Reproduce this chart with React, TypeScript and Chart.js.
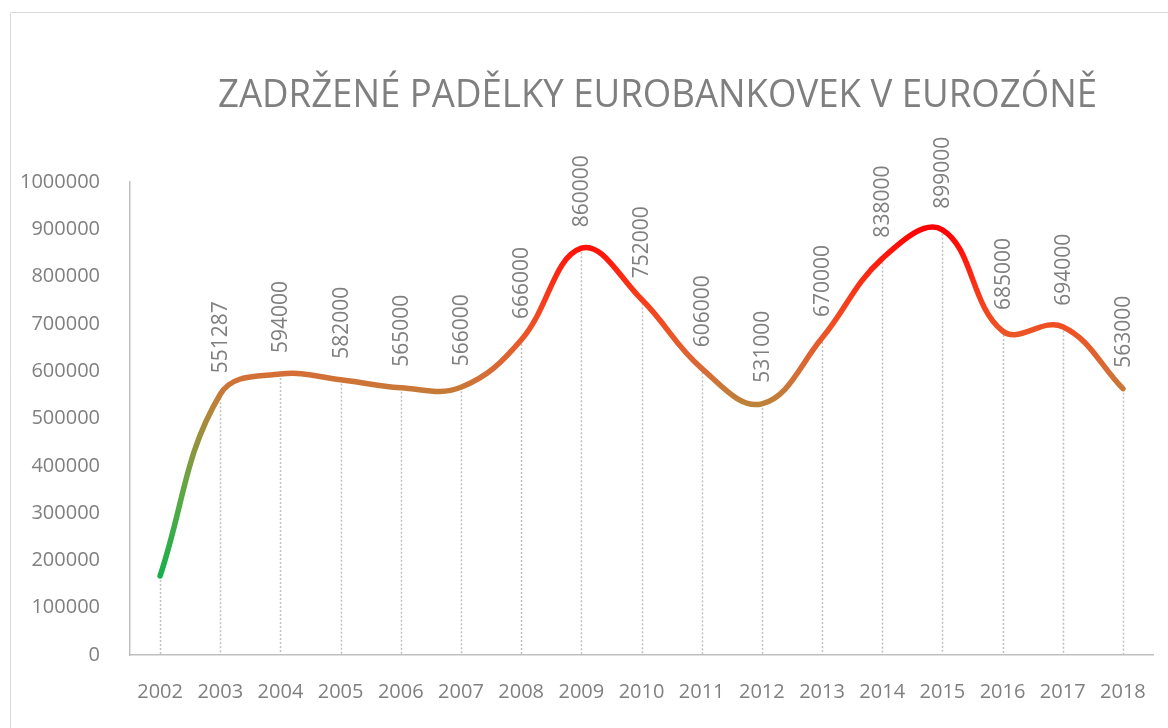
import React, { useEffect, useRef } from "react";
import { Chart, registerables } from "chart.js";

Chart.register(...registerables);

const years = ["2002", "2003", "2004", "2005", "2006", "2007", "2008", "2009", "2010", "2011", "2012", "2013", "2014", "2015", "2016", "2017", "2018"];
const counterfeits = [167118, 551287, 594000, 582000, 565000, 566000, 666000, 860000, 752000, 606000, 531000, 670000, 838000, 899000, 685000, 694000, 563000];
const valueLabels: (string | null)[] = [null, "551287", "594000", "582000", "565000", "566000", "666000", "860000", "752000", "606000", "531000", "670000", "838000", "899000", "685000", "694000", "563000"];
const titleText = "ZADRŽENÉ PADĚLKY EUROBANKOVEK V EUROZÓNĚ";
const yMin = 0;
const yMax = 1000000;
const yStep = 100000;

const GRAY = "#7f7f7f";
const FONT = "'Open Sans', 'DejaVu Sans', sans-serif";

const framePlugin = {
  id: "frame",
  beforeDraw(chart: any) {
    const ctx = chart.ctx;
    ctx.save();
    ctx.strokeStyle = "#d9d9d9";
    ctx.lineWidth = 1;
    ctx.beginPath();
    ctx.moveTo(10.5, chart.height + 5);
    ctx.lineTo(10.5, 12.5);
    ctx.lineTo(chart.width + 5, 12.5);
    ctx.stroke();
    ctx.restore();
  },
  afterDraw(chart: any) {
    const ctx = chart.ctx;
    ctx.save();
    ctx.fillStyle = GRAY;
    ctx.font = `38px ${FONT}`;
    ctx.textBaseline = "alphabetic";
    ctx.textAlign = "left";
    const w = ctx.measureText(titleText).width;
    const targetW = 879;
    const sx = targetW / w;
    ctx.translate(218, 107);
    ctx.scale(sx, 1);
    ctx.fillText(titleText, 0, 0);
    ctx.restore();
  },
};

const dropLinePlugin = {
  id: "dropLines",
  beforeDatasetsDraw(chart: any) {
    const ctx = chart.ctx;
    const meta = chart.getDatasetMeta(0);
    const bottom = chart.chartArea.bottom;
    ctx.save();
    ctx.strokeStyle = "#bfbfbf";
    ctx.lineWidth = 1.5;
    ctx.setLineDash([2, 2]);
    meta.data.forEach((pt: any) => {
      ctx.beginPath();
      ctx.moveTo(Math.round(pt.x) + 0.5, pt.y);
      ctx.lineTo(Math.round(pt.x) + 0.5, bottom);
      ctx.stroke();
    });
    ctx.restore();
  },
  afterDatasetsDraw(chart: any) {
    const ctx = chart.ctx;
    const meta = chart.getDatasetMeta(0);
    ctx.save();
    ctx.fillStyle = GRAY;
    ctx.font = `21px ${FONT}`;
    ctx.textAlign = "left";
    ctx.textBaseline = "middle";
    meta.data.forEach((pt: any, i: number) => {
      const lbl = valueLabels[i];
      if (!lbl) return;
      ctx.save();
      ctx.translate(pt.x + 1, pt.y - 21);
      ctx.rotate(-Math.PI / 2);
      ctx.fillText(lbl, 0, 0);
      ctx.restore();
    });
    ctx.restore();
  },
};

function lineGradient(context: any) {
  const chart = context.chart;
  const { chartArea, scales } = chart;
  if (!chartArea || !scales.y) return "#e05a2a";
  const y0 = scales.y.getPixelForValue(yMin);
  const y1 = scales.y.getPixelForValue(yMax);
  const g = chart.ctx.createLinearGradient(0, y0, 0, y1);
  g.addColorStop(0.0, "#10b050");
  g.addColorStop(0.17, "#18b04c");
  g.addColorStop(0.35, "#60a844");
  g.addColorStop(0.53, "#bc8238");
  g.addColorStop(0.6, "#d66c36");
  g.addColorStop(0.68, "#ec5426");
  g.addColorStop(0.76, "#f83a1a");
  g.addColorStop(0.84, "#ff1a0c");
  g.addColorStop(0.9, "#ff0000");
  g.addColorStop(1.0, "#ff0000");
  return g;
}

export default function App() {
  const ref = useRef<HTMLCanvasElement | null>(null);
  useEffect(() => {
    if (!ref.current) return;
    const chart = new Chart(ref.current, {
      type: "line",
      data: {
        labels: years,
        datasets: [
          {
            data: counterfeits,
            borderColor: lineGradient,
            borderWidth: 5.5,
            tension: 0.4,
            pointRadius: 0,
            pointHoverRadius: 0,
            borderCapStyle: "round",
            borderJoinStyle: "round",
            fill: false,
          },
        ],
      },
      options: {
        animation: false,
        responsive: false,
        maintainAspectRatio: false,
        layout: { padding: { top: 182, right: 15, left: 0, bottom: 0 } },
        plugins: {
          legend: { display: false },
          title: { display: false },
          tooltip: { enabled: false },
        },
        scales: {
          x: {
            offset: true,
            grid: { display: false },
            border: { display: true, color: "#bfbfbf", width: 1.5 },
            ticks: { color: GRAY, font: { family: FONT, size: 20 }, padding: 17, maxRotation: 0, autoSkip: false },
            afterFit(scale: any) {
              scale.height = 73;
            },
          },
          y: {
            min: yMin,
            max: yMax,
            grid: { display: false },
            border: { display: true, color: "#bfbfbf", width: 1.5 },
            ticks: {
              stepSize: yStep,
              color: GRAY,
              font: { family: FONT, size: 20 },
              padding: 22,
              callback: (v: any) => String(v),
            },
            afterFit(scale: any) {
              scale.width = 130;
            },
          },
        },
      },
      plugins: [framePlugin, dropLinePlugin],
    });
    return () => chart.destroy();
  }, []);
  return (
    <div style={{ position: "fixed", left: 0, top: 0, width: 1168, height: 728, background: "#fff" }}>
      <canvas ref={ref} width={1168} height={728} style={{ display: "block" }} />
    </div>
  );
}
